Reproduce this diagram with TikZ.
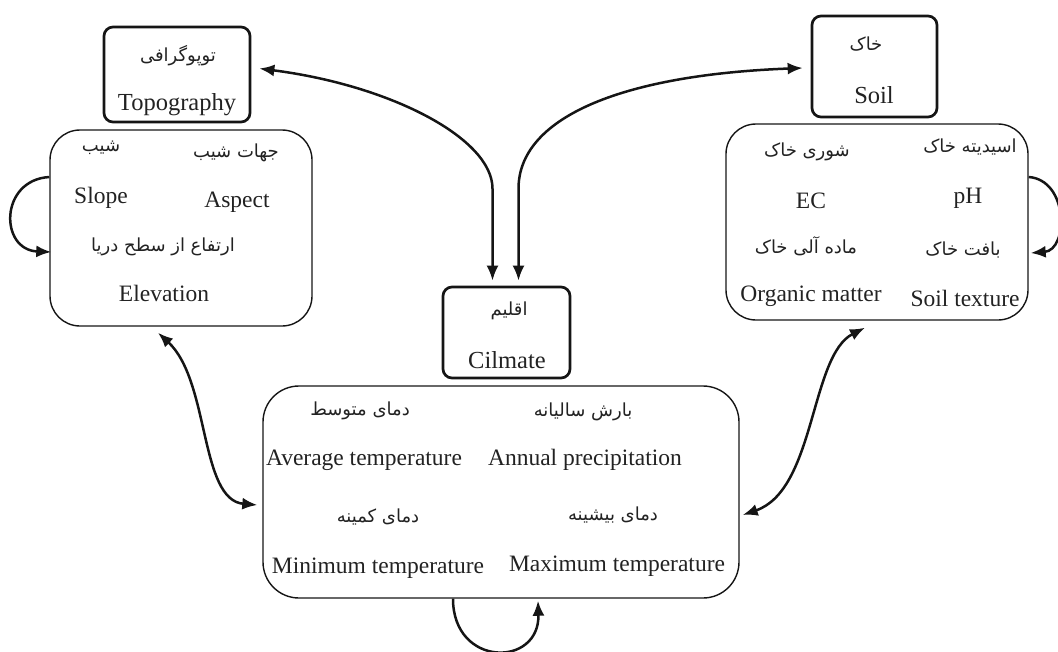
\documentclass[tikz,border=0pt]{standalone}
\usepackage{fontspec}
\setmainfont{Liberation Serif}
\newfontfamily\fa[Script=Arabic]{DejaVu Sans}
\TeXXeTstate=1
\usetikzlibrary{arrows.meta,calc}
\definecolor{ink}{HTML}{151515}
\definecolor{txt}{HTML}{222222}
\tikzset{
  titlebox/.style={draw=ink, line width=2.7pt, rounded corners=9pt, inner sep=0pt},
  panel/.style={draw=ink, line width=1.4pt, rounded corners=30pt, inner sep=0pt},
  en/.style={font=\fontsize{23.5}{26}\selectfont, anchor=base, inner sep=0pt, text=txt},
  fa/.style={font=\fa\fontsize{18}{21}\selectfont, inner sep=0pt, text=txt},
  link/.style={draw=ink, line width=2.5pt, -{Latex[length=15pt,width=12pt]}},
  dlink/.style={draw=ink, line width=2.5pt, {Latex[length=15pt,width=12pt]}-{Latex[length=15pt,width=12pt]}}
}
\begin{document}
\begin{tikzpicture}[x=1pt,y=-1pt]
\useasboundingbox (0,0) rectangle (1058,651);
% boxes
\node[titlebox, minimum width=146pt, minimum height=95pt] (topo) at (177,74.5) {};
\node[titlebox, minimum width=125pt, minimum height=101pt] (soil) at (874.5,66.5) {};
\node[titlebox, minimum width=127pt, minimum height=91pt] (clim) at (506.5,332.5) {};
\node[panel, minimum width=262pt, minimum height=196pt] (tc) at (181,228) {};
\node[panel, minimum width=302pt, minimum height=196pt] (sc) at (877,222) {};
\node[panel, minimum width=476pt, minimum height=212pt, rounded corners=36pt] (cc) at (501,492) {};
% title texts
\node[fa] (topofa) at (178,56) {\beginR توپوگرافی\endR};
\node[en, font=\fontsize{24.5}{27}\selectfont] (topoen) at (177,110) {Topography};
\node[fa] (soilfa) at (866,44) {\beginR خاک\endR};
\node[en, font=\fontsize{24.5}{27}\selectfont] (soilen) at (874,103) {Soil};
\node[fa] (climfa) at (509,311) {\beginR اقلیم\endR};
\node[en, font=\fontsize{24.5}{27}\selectfont] (climen) at (507,368) {Cilmate};
% topography panel
\node[fa] (t1fa) at (101,148) {\beginR شیب\endR};
\node[fa] (t2fa) at (236,153) {\beginR جهات شیب\endR};
\node[en] (t1en) at (101,203) {Slope};
\node[en] (t2en) at (237,207) {Aspect};
\node[fa] (t3fa) at (163,247) {\beginR ارتفاع از سطح دریا\endR};
\node[en] (t3en) at (164,301) {Elevation};
% soil panel
\node[fa] (s1fa) at (807,152) {\beginR شوری خاک\endR};
\node[fa] (s2fa) at (970,147) {\beginR اسیدیته خاک\endR};
\node[en] (s1en) at (811,208) {EC};
\node[en] (s2en) at (968,203) {pH};
\node[fa] (s3fa) at (806,246) {\beginR ماده آلی خاک\endR};
\node[fa] (s4fa) at (963,250) {\beginR بافت خاک\endR};
\node[en] (s3en) at (811,301) {Organic matter};
\node[en] (s4en) at (965,306) {Soil texture};
% climate panel
\node[fa] (c1fa) at (360,411) {\beginR دمای متوسط\endR};
\node[fa] (c2fa) at (583,412) {\beginR بارش سالیانه\endR};
\node[en] (c1en) at (364,465) {Average temperature};
\node[en] (c2en) at (585,465) {Annual precipitation};
\node[fa] (c3fa) at (378,517) {\beginR دمای کمینه\endR};
\node[fa] (c4fa) at (613,515) {\beginR دمای بیشینه\endR};
\node[en] (c3en) at (378,573) {Minimum temperature};
\node[en] (c4en) at (617,571) {Maximum temperature};
% connector end points
\coordinate (a1) at ($(topo.east)+(8,-6)$);
\coordinate (a2) at ($(clim.north)+(-14,-5)$);
\coordinate (b1) at ($(clim.north)+(12,-5)$);
\coordinate (b2) at ($(soil.west)+(-8,1.5)$);
\coordinate (c1) at ($(tc.south)+(-23,6)$);
\coordinate (c2) at ($(cc.west)+(-5,13)$);
\coordinate (d1) at ($(sc.south)+(-12,7)$);
\coordinate (d2) at ($(cc.east)+(3,23)$);
\coordinate (l1s) at ($(tc.west)+(0,-51)$);
\coordinate (l1e) at ($(tc.west)+(2,24)$);
\coordinate (l2s) at ($(sc.east)+(0,-45)$);
\coordinate (l2e) at ($(sc.east)+(2,31)$);
\coordinate (l3s) at ($(cc.south)+(-48,0)$);
\coordinate (l3e) at ($(cc.south)+(37,2)$);
% connectors
\draw[dlink] (a1) .. controls +(132,17) and +(0,-50) .. ($(a2)+(0,-92)$) -- (a2);
\draw[dlink] (b1) -- ($(b1)+(0,-92)$) .. controls +(0,-70) and +(-184,7) .. (b2);
\draw[dlink] (c1) .. controls +(52,48) and +(-58,-5) .. (c2);
\draw[dlink] (d1) .. controls +(-55,28) and +(73,-25) .. (d2);
\draw[link] (l1s) .. controls +(-50,3) and +(-52,-2) .. (l1e);
\draw[link] (l2s) .. controls +(40,3) and +(38,-3) .. (l2e);
\draw[link] (l3s) .. controls +(0,69) and +(2,67) .. (l3e);
\end{tikzpicture}
\end{document}
